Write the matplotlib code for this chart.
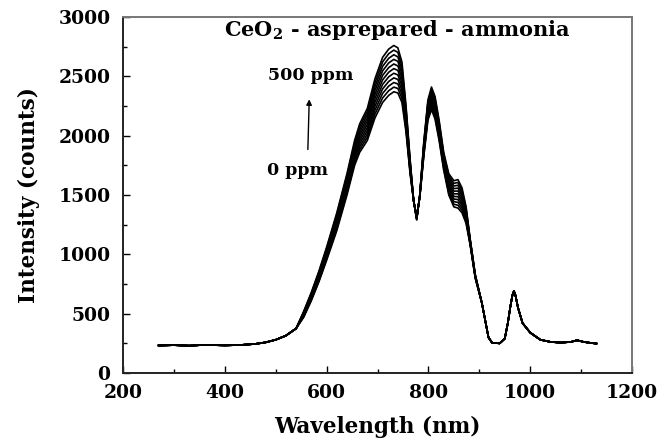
import matplotlib
matplotlib.use("Agg")
import matplotlib.pyplot as plt
from matplotlib.ticker import MultipleLocator

# ---- data ----
# shared low-wavelength part (all concentrations overlap)
wl_left = [270, 300, 330, 360, 400, 430, 460, 480, 500, 520, 540]
I_left = [232, 235, 230, 237, 233, 236, 245, 258, 280, 315, 375]

# region where the curves separate
wl_mid = [555, 570, 585, 600, 620, 640, 655, 665, 680, 695, 710, 722, 732, 740, 748,
          756, 764, 771, 777, 783, 791, 799, 806, 813, 821, 830, 840, 850, 858, 866,
          874, 882, 892]
I_0ppm = [470, 610, 770, 950, 1200, 1500, 1750, 1860, 1960, 2150, 2280, 2340, 2370, 2360, 2280,
          2030, 1680, 1450, 1320, 1480, 1830, 2130, 2220, 2140, 1960, 1710, 1500, 1400, 1390, 1350,
          1260, 1080, 800]
I_50ppm = [475, 617, 779, 961, 1215, 1518, 1771, 1884, 1987, 2183, 2318, 2379, 2409, 2398, 2314,
           2052, 1692, 1450, 1317, 1482, 1842, 2147, 2239, 2159, 1977, 1725, 1518, 1422, 1414, 1371,
           1274, 1085, 803]
I_100ppm = [480, 624, 788, 972, 1230, 1536, 1792, 1908, 2014, 2216, 2356, 2418, 2448, 2436, 2348,
            2074, 1704, 1450, 1314, 1484, 1854, 2164, 2258, 2178, 1994, 1740, 1536, 1444, 1438, 1392,
            1288, 1090, 806]
I_150ppm = [485, 631, 797, 983, 1245, 1554, 1813, 1932, 2041, 2249, 2394, 2457, 2487, 2474, 2382,
            2096, 1716, 1450, 1311, 1486, 1866, 2181, 2277, 2197, 2011, 1755, 1554, 1466, 1462, 1413,
            1302, 1095, 809]
I_200ppm = [490, 638, 806, 994, 1260, 1572, 1834, 1956, 2068, 2282, 2432, 2496, 2526, 2512, 2416,
            2118, 1728, 1450, 1308, 1488, 1878, 2198, 2296, 2216, 2028, 1770, 1572, 1488, 1486, 1434,
            1316, 1100, 812]
I_250ppm = [495, 645, 815, 1005, 1275, 1590, 1855, 1980, 2095, 2315, 2470, 2535, 2565, 2550, 2450,
            2140, 1740, 1450, 1305, 1490, 1890, 2215, 2315, 2235, 2045, 1785, 1590, 1510, 1510, 1455,
            1330, 1105, 815]
I_300ppm = [500, 652, 824, 1016, 1290, 1608, 1876, 2004, 2122, 2348, 2508, 2574, 2604, 2588, 2484,
            2162, 1752, 1450, 1302, 1492, 1902, 2232, 2334, 2254, 2062, 1800, 1608, 1532, 1534, 1476,
            1344, 1110, 818]
I_350ppm = [505, 659, 833, 1027, 1305, 1626, 1897, 2028, 2149, 2381, 2546, 2613, 2643, 2626, 2518,
            2184, 1764, 1450, 1299, 1494, 1914, 2249, 2353, 2273, 2079, 1815, 1626, 1554, 1558, 1497,
            1358, 1115, 821]
I_400ppm = [510, 666, 842, 1038, 1320, 1644, 1918, 2052, 2176, 2414, 2584, 2652, 2682, 2664, 2552,
            2206, 1776, 1450, 1296, 1496, 1926, 2266, 2372, 2292, 2096, 1830, 1644, 1576, 1582, 1518,
            1372, 1120, 824]
I_450ppm = [515, 673, 851, 1049, 1335, 1662, 1939, 2076, 2203, 2447, 2622, 2691, 2721, 2702, 2586,
            2228, 1788, 1450, 1293, 1498, 1938, 2283, 2391, 2311, 2113, 1845, 1662, 1598, 1606, 1539,
            1386, 1125, 827]
I_500ppm = [520, 680, 860, 1060, 1350, 1680, 1960, 2100, 2230, 2480, 2660, 2730, 2760, 2740, 2620,
            2250, 1800, 1450, 1290, 1500, 1950, 2300, 2410, 2330, 2130, 1860, 1680, 1620, 1630, 1560,
            1400, 1130, 830]

# shared high-wavelength part
wl_right = [905, 918, 925, 940, 950, 956, 961, 965, 968, 971, 976, 985, 1000, 1020, 1040,
            1060, 1080, 1092, 1105, 1118, 1130]
I_right = [590, 300, 255, 250, 290, 420, 560, 655, 690, 655, 550, 420, 340, 280, 262,
           256, 262, 276, 262, 254, 248]

concentrations = ["0 ppm", "50 ppm", "100 ppm", "150 ppm", "200 ppm", "250 ppm",
                  "300 ppm", "350 ppm", "400 ppm", "450 ppm", "500 ppm"]
series_mid = [I_0ppm, I_50ppm, I_100ppm, I_150ppm, I_200ppm, I_250ppm,
              I_300ppm, I_350ppm, I_400ppm, I_450ppm, I_500ppm]

title_text = "CeO$_\\mathbf{2}$ - asprepared - ammonia"
xlabel = "Wavelength (nm)"
ylabel = "Intensity (counts)"

# ---- figure ----
plt.rcParams["font.family"] = ["DejaVu Serif"]
plt.rcParams["font.weight"] = "bold"
plt.rcParams["mathtext.fontset"] = "dejavuserif"
plt.rcParams["mathtext.default"] = "bf"

fig = plt.figure(figsize=(6.6, 4.43), dpi=100)
ax = fig.add_axes([0.1864, 0.158, 0.7712, 0.8036])

for lab, mid in zip(concentrations, series_mid):
    x = wl_left + wl_mid + wl_right
    y = I_left + mid + I_right
    ax.plot(x, y, color="black", lw=1.2, label=lab, solid_joinstyle="round")

ax.set_xlim(200, 1200)
ax.set_ylim(0, 3000)
ax.xaxis.set_major_locator(MultipleLocator(200))
ax.xaxis.set_minor_locator(MultipleLocator(100))
ax.yaxis.set_major_locator(MultipleLocator(500))
ax.yaxis.set_minor_locator(MultipleLocator(250))
ax.tick_params(which="both", direction="in", top=False, right=False,
               labelsize=13.5, width=1.0, colors="black")
ax.tick_params(which="major", length=5)
ax.tick_params(which="minor", length=3)
ax.tick_params(axis="x", which="major", pad=8)
ax.tick_params(axis="y", which="major", pad=9)
for lbl in ax.get_xticklabels() + ax.get_yticklabels():
    lbl.set_fontweight("bold")

for side in ["left", "bottom"]:
    ax.spines[side].set_linewidth(1.4)
    ax.spines[side].set_color("#222222")
for side in ["top", "right"]:
    ax.spines[side].set_linewidth(1.4)
    ax.spines[side].set_color("#777777")

ax.set_xlabel(xlabel, fontsize=15.5, fontweight="bold", labelpad=10)
ax.set_ylabel(ylabel, fontsize=15.5, fontweight="bold", labelpad=13)

ax.text(738, 2890, title_text, ha="center", va="center", fontsize=15,
        fontweight="bold")
ax.text(569, 2510, "500 ppm", ha="center", va="center", fontsize=12.5,
        fontweight="bold")
ax.text(542, 1710, "0 ppm", ha="center", va="center", fontsize=12.5,
        fontweight="bold")
ax.annotate("", xy=(566, 2330), xytext=(563, 1860),
            arrowprops=dict(arrowstyle="-|>", color="black", lw=1.0,
                            mutation_scale=8))

fig.savefig("out.png", dpi=100)
